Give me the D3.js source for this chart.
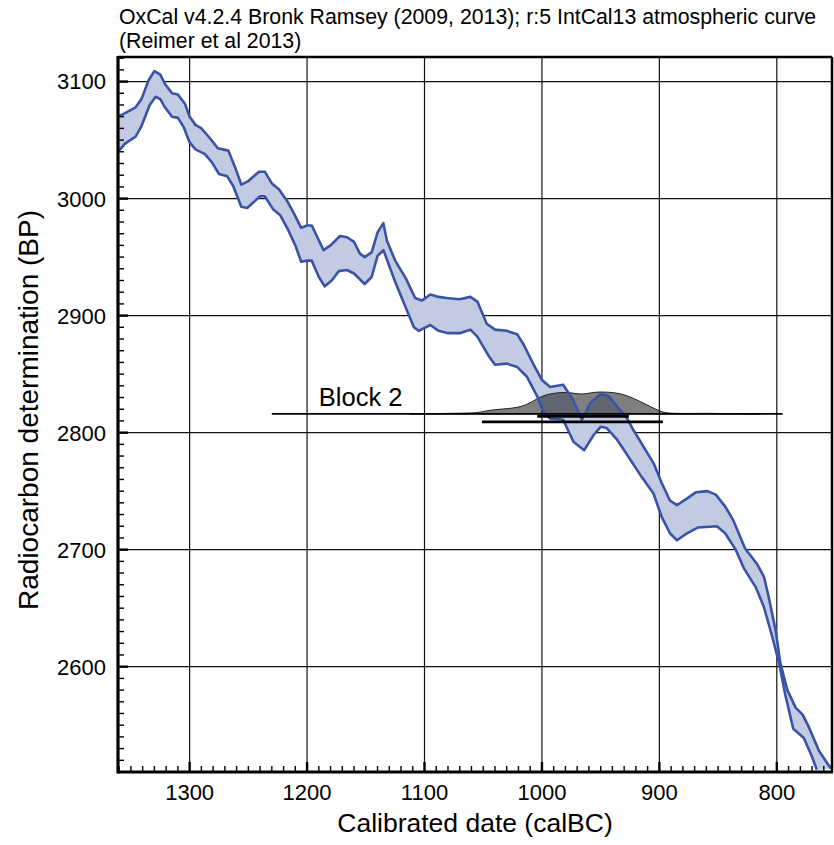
<!DOCTYPE html>
<html>
<head>
<meta charset="utf-8">
<script src="https://cdn.jsdelivr.net/npm/d3@7"></script>
<style>
  body { margin: 0; background: #fff; }
  text { font-family: "Liberation Sans", Arial, sans-serif; fill: #000; }
</style>
</head>
<body>
<div id="chart"></div>
<script>
// calibration curve (IntCal13, 1 sigma envelope): [calBC, BP]
var upperCurve = [
  [1361,3070],[1355,3073],[1346,3078],[1341,3085],[1335,3101],[1330,3109],[1325,3106],
  [1321,3098],[1315,3090],[1310,3089],[1304,3081],[1300,3070],[1295,3063],[1290,3060],
  [1283,3052],[1276,3043],[1267,3041],[1261,3026],[1256,3012],[1250,3015],[1241,3023],
  [1236,3023],[1230,3013],[1224,3008],[1217,2998],[1211,2987],[1205,2975],[1200,2977],
  [1196,2977],[1186,2956],[1180,2960],[1172,2968],[1166,2967],[1160,2963],[1155,2953],
  [1151,2950],[1145,2954],[1140,2971],[1135,2979],[1132,2964],[1125,2947],[1116,2932],
  [1108,2915],[1102,2913],[1095,2918],[1088,2916],[1081,2915],[1070,2914],[1061,2916],
  [1055,2912],[1047,2893],[1040,2888],[1030,2887],[1021,2884],[1016,2876],[1007,2858],
  [1000,2845],[993,2839],[982,2841],[974,2829],[966,2811],[959,2825],[950,2833],
  [943,2831],[935,2821],[928,2813],[922,2802],[905,2774],[898,2757],[891,2742],
  [885,2738],[876,2744],[869,2749],[859,2750],[852,2747],[844,2737],[837,2725],
  [827,2701],[817,2688],[811,2677],[807,2660],[801,2631],[797,2603],[791,2580],
  [784,2565],[778,2559],[773,2549],[764,2528],[754,2513]
];
var lowerCurve = [
  [1361,3040],[1355,3047],[1346,3053],[1341,3062],[1334,3080],[1329,3087],[1325,3085],
  [1321,3078],[1315,3070],[1310,3069],[1305,3061],[1300,3048],[1295,3042],[1287,3038],
  [1281,3031],[1275,3021],[1268,3019],[1263,3011],[1256,2993],[1251,2992],[1240,3002],
  [1236,3002],[1229,2991],[1223,2986],[1216,2973],[1210,2960],[1205,2946],[1200,2947],
  [1196,2947],[1190,2933],[1185,2925],[1179,2930],[1173,2938],[1166,2939],[1160,2936],
  [1151,2927],[1145,2933],[1140,2951],[1135,2956],[1125,2929],[1116,2907],[1109,2890],
  [1105,2887],[1095,2892],[1088,2887],[1080,2885],[1070,2885],[1061,2888],[1055,2882],
  [1045,2865],[1040,2858],[1030,2859],[1021,2856],[1013,2848],[1004,2831],[999,2818],
  [993,2812],[982,2811],[973,2792],[964,2785],[956,2798],[950,2805],[945,2804],
  [936,2794],[930,2785],[915,2762],[905,2748],[898,2728],[891,2714],[885,2708],
  [878,2713],[867,2719],[851,2720],[844,2714],[835,2700],[828,2684],[818,2668],
  [811,2651],[804,2626],[798,2603],[793,2577],[786,2547],[777,2539],[770,2523],[766,2512]
];

// Block 2 probability distribution (relative density)
var blockName = "Block 2";
var blockBP = 2816;
var distYears   = [1112,1087,1070,1055,1050,1041,1024,1013,1004,996,984,976,966,956,945,933,922,910,899,891,874,857,840,814];
var distDensity = [0,0.02,0.03,0.05,0.11,0.2,0.25,0.4,0.7,0.9,0.98,0.98,0.86,1.0,1.0,0.94,0.71,0.4,0.09,0.02,0.02,0.03,0.01,0];
var blockSpan = [1230, 795];
var range68 = [1004, 926];
var range95 = [1051, 897];

var xTicks = [1300, 1200, 1100, 1000, 900, 800];
var yTicks = [2600, 2700, 2800, 2900, 3000, 3100];
var titleLines = ["OxCal v4.2.4 Bronk Ramsey (2009, 2013); r:5 IntCal13 atmospheric curve",
                  "(Reimer et al 2013)"];

var W = 834, H = 845;
var margin = {top: 57, right: 2, bottom: 73, left: 118};
var x0 = margin.left, x1 = W - margin.right, y0 = margin.top, y1 = H - margin.bottom;

var svg = d3.select("#chart").append("svg")
  .attr("width", W).attr("height", H);

var x = d3.scaleLinear().domain([1361, 753]).range([x0, x1]);
var y = d3.scaleLinear().domain([2510, 3121]).range([y1, y0]);

svg.append("clipPath").attr("id", "clip")
  .append("rect").attr("x", x0).attr("y", y0).attr("width", x1 - x0).attr("height", y1 - y0);

// grid
var grid = svg.append("g").attr("stroke", "#111").attr("stroke-width", 1.2);
grid.selectAll(".gx").data(xTicks).enter().append("line")
  .attr("x1", d => x(d)).attr("x2", d => x(d)).attr("y1", y0).attr("y2", y1);
grid.selectAll(".gy").data(yTicks).enter().append("line")
  .attr("y1", d => y(d)).attr("y2", d => y(d)).attr("x1", x0).attr("x2", x1);

var plot = svg.append("g").attr("clip-path", "url(#clip)");

var line = d3.line().x(d => x(d[0])).y(d => y(d[1]));

// band fill
plot.append("path")
  .attr("d", line(upperCurve.concat(lowerCurve.slice().reverse())) + "Z")
  .attr("fill", "#c3cbe3").attr("stroke", "none");

// distribution
var hScale = d3.scaleLinear().domain([0, 1]).range([0, 22]);
var distArea = d3.area()
  .x((d, i) => x(distYears[i]))
  .y0(y(blockBP))
  .y1((d, i) => y(blockBP) - hScale(d))
  .curve(d3.curveBasis);
plot.append("path")
  .attr("d", distArea(distDensity))
  .attr("fill", "rgba(0,0,0,0.5)")
  .attr("stroke", "#222").attr("stroke-width", 1);

// curve lines
[upperCurve, lowerCurve].forEach(function(c) {
  plot.append("path").attr("d", line(c))
    .attr("fill", "none").attr("stroke", "#3953a6").attr("stroke-width", 2.6)
    .attr("stroke-linejoin", "round");
});

// block span line and ranges
svg.append("line")
  .attr("x1", x(blockSpan[0])).attr("x2", x(blockSpan[1]))
  .attr("y1", y(blockBP)).attr("y2", y(blockBP))
  .attr("stroke", "#000").attr("stroke-width", 1.6);
svg.append("line")
  .attr("x1", x(range68[0])).attr("x2", x(range68[1]))
  .attr("y1", y(blockBP) + 2.5).attr("y2", y(blockBP) + 2.5)
  .attr("stroke", "#000").attr("stroke-width", 2.6);
svg.append("line")
  .attr("x1", x(range95[0])).attr("x2", x(range95[1]))
  .attr("y1", y(blockBP) + 8).attr("y2", y(blockBP) + 8)
  .attr("stroke", "#000").attr("stroke-width", 2.6);
svg.append("text")
  .attr("x", x(1190)).attr("y", y(blockBP) - 8)
  .attr("font-size", 25.5).text(blockName);

// frame
svg.append("line").attr("x1", x0).attr("x2", x1).attr("y1", y0).attr("y2", y0)
  .attr("stroke", "#000").attr("stroke-width", 2.5);
svg.append("line").attr("x1", x1).attr("x2", x1).attr("y1", y0).attr("y2", y1)
  .attr("stroke", "#000").attr("stroke-width", 2.5);

// axes with inward ticks
var ax = svg.append("g");
ax.append("line").attr("x1", x0).attr("x2", x1 + 1).attr("y1", y1).attr("y2", y1)
  .attr("stroke", "#000").attr("stroke-width", 3.2);
ax.append("line").attr("x1", x0).attr("x2", x0).attr("y1", y0 - 1).attr("y2", y1 + 1.6)
  .attr("stroke", "#000").attr("stroke-width", 3.2);

var xMinor = d3.range(760, 1361, 10);
ax.selectAll(".xm").data(xMinor).enter().append("line")
  .attr("x1", d => x(d)).attr("x2", d => x(d))
  .attr("y1", y1).attr("y2", d => y1 - (d % 100 === 0 ? 10 : 6))
  .attr("stroke", "#000").attr("stroke-width", d => d % 100 === 0 ? 2.4 : 1.4);
var yMinor = d3.range(2510, 3121, 10);
ax.selectAll(".ym").data(yMinor).enter().append("line")
  .attr("y1", d => y(d)).attr("y2", d => y(d))
  .attr("x1", x0).attr("x2", d => x0 + (d % 100 === 0 ? 10 : 6))
  .attr("stroke", "#000").attr("stroke-width", d => d % 100 === 0 ? 2.4 : 1.4);

ax.selectAll(".xl").data(xTicks).enter().append("text")
  .attr("x", d => x(d)).attr("y", 800)
  .attr("text-anchor", "middle").attr("font-size", 22).text(d => d);
ax.selectAll(".yl").data(yTicks).enter().append("text")
  .attr("x", 106).attr("y", d => y(d)).attr("dy", "0.36em")
  .attr("text-anchor", "end").attr("font-size", 22).text(d => d);

svg.append("text").attr("x", 475).attr("y", 832)
  .attr("text-anchor", "middle").attr("font-size", 26.5).text("Calibrated date (calBC)");
svg.append("text").attr("transform", "translate(38,410) rotate(-90)")
  .attr("text-anchor", "middle").attr("font-size", 28).text("Radiocarbon determination (BP)");

svg.selectAll(".title").data(titleLines).enter().append("text")
  .attr("x", 119).attr("y", (d, i) => 24 + i * 24)
  .attr("font-size", 21.3).text(d => d);
</script>
</body>
</html>
